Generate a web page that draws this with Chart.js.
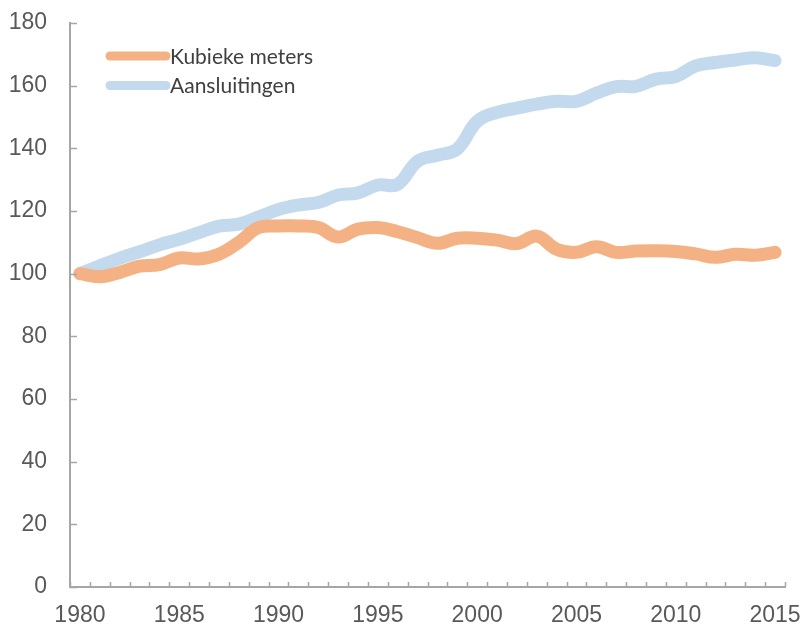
<!DOCTYPE html>
<html>
<head>
<meta charset="utf-8">
<script src="https://cdn.jsdelivr.net/npm/chart.js@4/dist/chart.umd.min.js"></script>
<style>
  html, body { margin: 0; padding: 0; background: #fff; }
  #wrap { width: 807px; height: 627px; position: relative; }
</style>
</head>
<body>
<div id="wrap"><canvas id="chart"></canvas></div>
<script>
// Data
const years = [];
for (let y = 1980; y <= 2015; y++) years.push(String(y));

const kubiekeMeters = [100, 99, 100.4, 102.4, 102.9, 105, 104.7, 106.2, 110, 114.7,
    115.2, 115.2, 114.7, 111.7, 114.2, 114.7, 113.4, 111.5, 109.7, 111.3,
    111.3, 110.7, 109.6, 112, 107.8, 106.8, 108.6, 106.8, 107.2, 107.3,
    107.1, 106.3, 105.2, 106.2, 105.9, 106.8];

const aansluitingen = [100, 102.5, 104.9, 107, 109.2, 111, 113.1, 115.2, 115.8, 118.1,
    120.5, 121.9, 122.7, 125.1, 125.8, 128.3, 128.5, 135.9, 137.8, 139.8,
    148.6, 151.5, 152.8, 154.1, 155, 155, 157.6, 159.7, 159.8, 162.1,
    162.9, 166.3, 167.4, 168.2, 168.9, 168];

const yTicks = [0, 20, 40, 60, 80, 100, 120, 140, 160, 180];

const axisColor = '#a6a6a6';
const labelColor = '#595959';

// Small tick marks pointing into the plot area
const innerTicks = {
    id: 'innerTicks',
    afterDraw(chart) {
        const ctx = chart.ctx;
        const x = chart.scales.x;
        const y = chart.scales.y;
        ctx.save();
        ctx.strokeStyle = axisColor;
        ctx.lineWidth = 1.5;
        ctx.beginPath();
        const n = years.length;
        for (let i = 0; i <= n; i++) {
            const px = Math.round(x.left + i * x.width / n) + 0.5;
            ctx.moveTo(px, y.bottom);
            ctx.lineTo(px, y.bottom - 5);
        }
        yTicks.forEach(v => {
            const py = Math.round(y.getPixelForValue(v)) + 0.5;
            ctx.moveTo(x.left, py);
            ctx.lineTo(x.left + 7, py);
        });
        ctx.stroke();
        ctx.restore();
    }
};

// Legend in the upper left of the plot
const innerLegend = {
    id: 'innerLegend',
    afterDatasetsDraw(chart) {
        const ctx = chart.ctx;
        const area = chart.chartArea;
        ctx.save();
        ctx.font = '21px Lato';
        ctx.textBaseline = 'middle';
        ctx.lineCap = 'round';
        chart.data.datasets.forEach((ds, i) => {
            const ly = area.top + 33 + i * 29.5;
            const lx = area.left + 40;
            ctx.strokeStyle = ds.borderColor;
            ctx.lineWidth = 9;
            ctx.beginPath();
            ctx.moveTo(lx, ly);
            ctx.lineTo(lx + 56, ly);
            ctx.stroke();
            ctx.fillStyle = '#404040';
            ctx.fillText(ds.label, lx + 60, ly + 1);
        });
        ctx.restore();
    }
};

const chart = new Chart(document.getElementById('chart'), {
    type: 'line',
    data: {
        labels: years,
        datasets: [{
            label: 'Kubieke meters',
            data: kubiekeMeters,
            borderColor: '#f4b183',
            borderWidth: 13,
            borderCapStyle: 'round',
            borderJoinStyle: 'round',
            pointRadius: 0,
            tension: 0.4,
            fill: false
        }, {
            label: 'Aansluitingen',
            data: aansluitingen,
            borderColor: '#c3daee',
            borderWidth: 13,
            borderCapStyle: 'round',
            borderJoinStyle: 'round',
            pointRadius: 0,
            tension: 0.4,
            fill: false
        }]
    },
    options: {
        responsive: true,
        maintainAspectRatio: false,
        animation: false,
        layout: { padding: { top: 23, right: 22, left: 0, bottom: 0 } },
        plugins: {
            legend: { display: false },
            tooltip: { enabled: false }
        },
        scales: {
            x: {
                offset: true,
                grid: { drawOnChartArea: false, drawTicks: false },
                border: { display: true, color: axisColor, width: 2 },
                ticks: {
                    autoSkip: false,
                    maxRotation: 0,
                    padding: 15,
                    color: labelColor,
                    font: { family: 'Liberation Sans', size: 23 },
                    callback: function (val, idx) {
                        const yr = Number(years[idx]);
                        return yr % 5 === 0 ? String(yr) : '';
                    }
                },
                afterFit(scale) {
                    scale.height = 40;
                    scale.paddingLeft = 0;
                    scale.paddingRight = 0;
                }
            },
            y: {
                min: 0,
                max: 180,
                grid: { drawOnChartArea: false, drawTicks: false },
                border: { display: true, color: axisColor, width: 2 },
                ticks: {
                    stepSize: 20,
                    padding: 23,
                    color: labelColor,
                    font: { family: 'Liberation Sans', size: 23 }
                },
                afterFit(scale) {
                    scale.width = 70;
                    scale.paddingTop = 0;
                    scale.paddingBottom = 0;
                }
            }
        }
    },
    plugins: [innerTicks, innerLegend]
});
</script>
</body>
</html>
